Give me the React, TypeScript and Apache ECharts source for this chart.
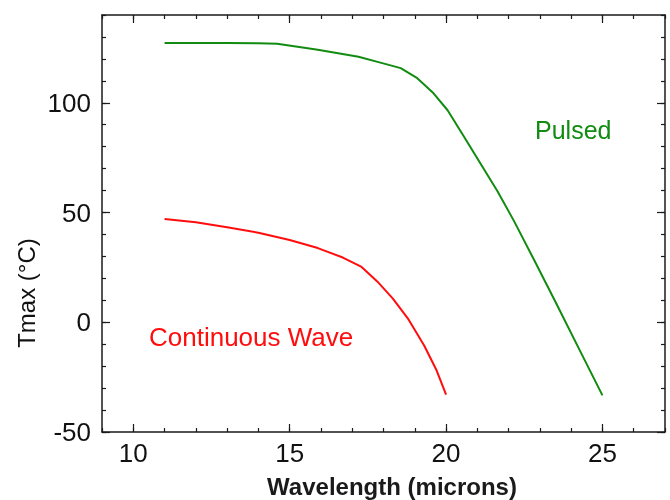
import React, { useEffect, useRef } from "react";
import * as echarts from "echarts";

const pulsedData: [number, number][] = [
  [11, 127.2], [12, 127.2], [13, 127.2], [14, 127.1], [14.6, 126.9],
  [15.9, 124.2], [17.2, 121], [17.9, 118.3], [18.55, 115.8], [19.08, 111.2],
  [19.6, 104.3], [20.05, 96.6], [20.57, 84.6], [21.1, 72.3], [21.64, 59.8],
  [22.17, 46.2], [22.8, 28.8], [23.5, 9.2], [24.3, -13.5], [25, -33.3],
];

const cwData: [number, number][] = [
  [11, 47], [12, 45.6], [13, 43.3], [14, 40.8], [15, 37.5], [15.9, 33.8],
  [16.7, 29.5], [17.3, 25.2], [17.8, 18.6], [18.3, 10.8], [18.8, 1.3],
  [19.3, -10.6], [19.7, -22], [20, -33],
];

const xMajorTicks = [10, 15, 20, 25];
const yMajorTicks = [-50, 0, 50, 100];
const xMin = 9, xMax = 27, yMin = -50, yMax = 140;

const FONT = "'Liberation Sans', Arial, Helvetica, sans-serif";
const LINE = "#1a1a1a";
const GREEN = "#118c11";
const RED = "#ff0d0d";

export default function App() {
  const ref = useRef<HTMLDivElement>(null);
  useEffect(() => {
    document.body.style.margin = "0";
    const chart = echarts.init(ref.current!, undefined, { renderer: "svg" });
    const gridRect = { left: 102, top: 15, right: 5, bottom: 68 };
    const minorX = (pos: string, labels: boolean) => ({
      type: "value", gridIndex: 0, position: pos, min: xMin, max: xMax, interval: 1,
      axisLine: { show: true, onZero: false, lineStyle: { color: LINE, width: 1.5 } },
      axisTick: { show: true, inside: true, length: 4, lineStyle: { color: LINE, width: 1.2 } },
      axisLabel: labels
        ? { show: true, customValues: xMajorTicks, fontSize: 26, color: "#111", fontFamily: FONT, margin: 8 }
        : { show: false },
      splitLine: { show: false },
    });
    const majorX = (pos: string) => ({
      type: "value", gridIndex: 1, position: pos, min: xMin, max: xMax,
      axisLine: { show: false, onZero: false },
      axisTick: { show: true, inside: true, length: 8, customValues: xMajorTicks, lineStyle: { color: LINE, width: 1.2 } },
      axisLabel: { show: false },
      splitLine: { show: false },
    });
    const minorY = (pos: string, labels: boolean) => ({
      type: "value", gridIndex: 0, position: pos, min: yMin, max: yMax, interval: 10,
      axisLine: { show: true, onZero: false, lineStyle: { color: LINE, width: 1.5 } },
      axisTick: { show: true, inside: true, length: 4, lineStyle: { color: LINE, width: 1.2 } },
      axisLabel: labels
        ? { show: true, customValues: yMajorTicks, fontSize: 26, color: "#111", fontFamily: FONT, margin: 11 }
        : { show: false },
      splitLine: { show: false },
    });
    const majorY = (pos: string) => ({
      type: "value", gridIndex: 1, position: pos, min: yMin, max: yMax,
      axisLine: { show: false, onZero: false },
      axisTick: { show: true, inside: true, length: 8, customValues: yMajorTicks, lineStyle: { color: LINE, width: 1.2 } },
      axisLabel: { show: false },
      splitLine: { show: false },
    });
    chart.setOption({
      animation: false,
      grid: [gridRect, gridRect],
      xAxis: [minorX("bottom", true), minorX("top", false), majorX("bottom"), majorX("top")],
      yAxis: [minorY("left", true), minorY("right", false), majorY("left"), majorY("right")],
      series: [
        {
          type: "line", name: "Pulsed", xAxisIndex: 0, yAxisIndex: 0, data: pulsedData,
          showSymbol: false, smooth: false,
          lineStyle: { color: GREEN, width: 2, join: "round" },
        },
        {
          type: "line", name: "Continuous Wave", xAxisIndex: 0, yAxisIndex: 0, data: cwData,
          showSymbol: false, smooth: false,
          lineStyle: { color: RED, width: 2, join: "round" },
        },
      ],
      graphic: [
        {
          type: "text", x: 535, y: 130,
          style: { text: "Pulsed", fill: GREEN, font: `25px ${FONT}`, textAlign: "left", textVerticalAlign: "middle" },
        },
        {
          type: "text", x: 149, y: 336.5,
          style: { text: "Continuous Wave", fill: RED, font: `26px ${FONT}`, textAlign: "left", textVerticalAlign: "middle" },
        },
        {
          type: "text", x: 392, y: 486,
          style: { text: "Wavelength (microns)", fill: "#1a1a1a", font: `bold 24px ${FONT}`, textAlign: "center", textVerticalAlign: "middle" },
        },
        {
          type: "text", x: 26, y: 293, rotation: Math.PI / 2,
          style: { text: "Tmax (°C)", fill: "#111", font: `24px ${FONT}`, textAlign: "center", textVerticalAlign: "middle" },
        },
      ],
    });
    return () => chart.dispose();
  }, []);
  return <div ref={ref} style={{ position: "fixed", left: 0, top: 0, width: 670, height: 500 }} />;
}
